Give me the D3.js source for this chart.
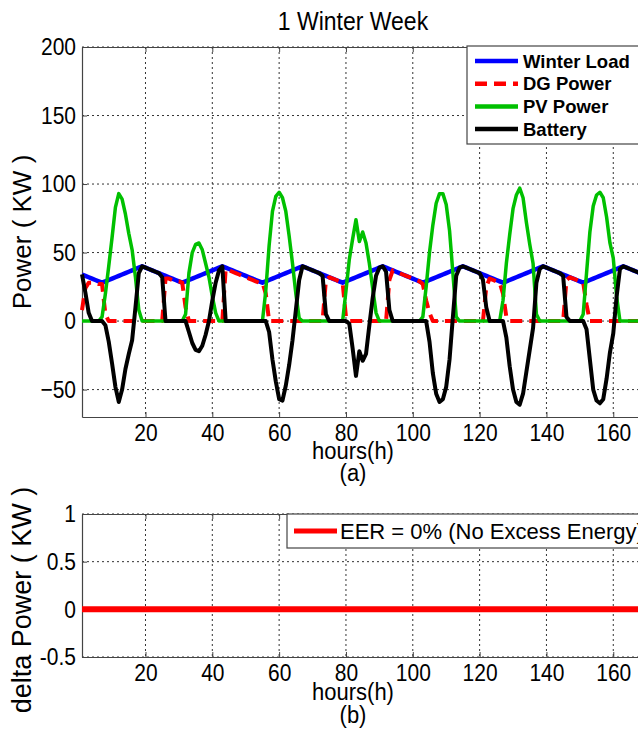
<!DOCTYPE html>
<html>
<head>
<meta charset="utf-8">
<script src="https://cdn.jsdelivr.net/npm/d3@7"></script>
<style>
  body { margin: 0; background: #fff; }
  text { font-family: "Liberation Sans", Arial, sans-serif; fill: #000; }
</style>
</head>
<body>
<div id="chart"></div>
<script>
// hourly values, hours 1..168
var hours = d3.range(1, 169);

var winterLoad = [
  34,33,32,31,30,29,28,29,30,31,32,33,34,35,36,37,38,39,40,39,38,37,36,35,
  34,33,32,31,30,29,28,29,30,31,32,33,34,35,36,37,38,39,40,39,38,37,36,35,
  34,33,32,31,30,29,28,29,30,31,32,33,34,35,36,37,38,39,40,39,38,37,36,35,
  34,33,32,31,30,29,28,29,30,31,32,33,34,35,36,37,38,39,40,39,38,37,36,35,
  34,33,32,31,30,29,28,29,30,31,32,33,34,35,36,37,38,39,40,39,38,37,36,35,
  34,33,32,31,30,29,28,29,30,31,32,33,34,35,36,37,38,39,40,39,38,37,36,35,
  34,33,32,31,30,29,28,29,30,31,32,33,34,35,36,37,38,39,40,39,38,37,36,35
];

var dgPower = [
  8,24,28,28,28,27,27,5,0,0,0,0,0,0,0,0,0,0,0,0,0,0,0,0,
  0,31,31,30,29,29,28,10,0,0,0,0,0,0,0,0,0,0,0,38,37,36,35,34,
  33,32,31,30,29,28,28,20,0,0,0,0,0,0,0,0,0,0,0,0,0,0,0,0,
  0,30,32,31,30,29,28,3,0,0,0,0,0,0,0,0,0,0,0,0,30,37,36,35,
  34,33,32,31,30,29,27,15,6,0,0,0,0,0,0,0,0,0,0,0,0,0,0,0,
  0,25,31,30,29,28,20,3,0,0,0,0,0,0,0,0,0,0,0,0,0,0,0,0,
  0,30,32,31,30,29,28,12,0,0,0,0,0,0,0,0,0,0,0,0,0,0,0,0
];

var pvPower = [
  0,0,0,0,0,0,3,20,40,61,83,93,89,78,64,52,32,8,0,0,0,0,0,0,
  0,0,0,0,0,0,0,5,35,50,56,57,52,42,32,18,6,0,0,0,0,0,0,0,
  0,0,0,0,0,0,0,22,55,80,91,94,90,80,62,42,20,2,0,0,0,0,0,0,
  0,0,0,0,0,0,0,22,45,60,74,58,65,57,42,24,6,0,0,0,0,0,0,0,
  0,0,0,0,0,0,3,25,50,70,86,93,93,85,66,35,3,0,0,0,0,0,0,0,
  0,0,0,0,0,0,15,42,63,82,92,97,90,72,56,42,5,0,0,0,0,0,0,0,
  0,0,0,0,0,0,5,35,65,84,92,94,90,76,57,46,18,0,0,0,0,0,0,0
];

var battery = [
  34,21,6,0,0,0,0,-3,-15,-31,-48,-59,-50,-35,-24,-14,10,35,40,39,38,37,36,35,
  32,0,0,0,0,0,0,0,-8,-16,-21,-22,-18,-10,0,15,28,37,40,0,0,0,0,0,
  0,0,0,0,0,0,0,0,-8,-28,-44,-57,-58,-47,-32,-14,8,30,40,39,38,37,36,35,
  33,5,0,0,0,0,0,0,-2,-20,-40,-22,-29,-24,-3,17,33,39,40,36,8,0,0,0,
  0,0,0,0,0,0,0,0,-15,-38,-53,-59,-57,-48,-28,3,33,39,40,39,38,37,36,35,
  30,10,0,0,0,0,0,-12,-33,-50,-59,-61,-53,-37,-21,-5,28,38,40,39,38,37,36,35,
  33,3,0,0,0,0,0,-6,-28,-50,-58,-60,-57,-42,-23,-9,18,38,40,39,38,37,36,35
];

var deltaPower = hours.map(function() { return 0; });

var xTicks = [20, 40, 60, 80, 100, 120, 140, 160];
var yTicksA = [-50, 0, 50, 100, 150, 200];
var yTicksB = [-0.5, 0, 0.5, 1];

var series = [
  {name: "Winter Load", values: winterLoad, color: "#0000ff", width: 4.5, dash: null},
  {name: "DG Power", values: dgPower, color: "#ff0000", width: 4, dash: "12,7"},
  {name: "PV Power", values: pvPower, color: "#00c000", width: 3.5, dash: null},
  {name: "Battery", values: battery, color: "#000000", width: 4, dash: null}
];

var W = 638, H = 739;
var svg = d3.select("#chart").append("svg")
  .attr("width", W).attr("height", H);
svg.append("rect").attr("width", W).attr("height", H).attr("fill", "#fff");

var x = d3.scaleLinear().domain([1, 168]).range([82, 640]);

// text slightly taller than wide, as in the picture
function label(px, py, size, str, rot) {
  return svg.append("text")
    .attr("transform", "translate(" + px + "," + py + ")" + (rot ? " rotate(-90)" : " scale(1,1.1)"))
    .attr("text-anchor", "middle").attr("font-size", size).text(str);
}

function panel(top, bottom, yDomain, yTicks, yFmt) {
  var y = d3.scaleLinear().domain(yDomain).range([bottom, top]);
  var g = svg.append("g");

  // grid
  g.selectAll(".gx").data(xTicks).enter().append("line")
    .attr("x1", function(d) { return x(d); }).attr("x2", function(d) { return x(d); })
    .attr("y1", top).attr("y2", bottom)
    .attr("stroke", "#333").attr("stroke-width", 1).attr("stroke-dasharray", "2,3");
  g.selectAll(".gy").data(yTicks).enter().append("line")
    .attr("x1", x.range()[0]).attr("x2", x.range()[1])
    .attr("y1", function(d) { return y(d); }).attr("y2", function(d) { return y(d); })
    .attr("stroke", "#333").attr("stroke-width", 1).attr("stroke-dasharray", "2,3");

  // axes, ticks inside
  g.append("g").attr("transform", "translate(0," + bottom + ")")
    .call(d3.axisBottom(x).tickValues(xTicks).tickSizeInner(-5).tickSizeOuter(0).tickPadding(6))
    .call(styleAxis);
  g.append("g").attr("transform", "translate(0," + top + ")")
    .call(d3.axisTop(x).tickValues(xTicks).tickFormat("").tickSizeInner(-5).tickSizeOuter(0))
    .call(styleAxis);
  g.append("g").attr("transform", "translate(" + x.range()[0] + ",0)")
    .call(d3.axisLeft(y).tickValues(yTicks).tickFormat(yFmt).tickSizeInner(-5).tickSizeOuter(0).tickPadding(6))
    .call(styleAxis);
  return {y: y, g: g};
}

function styleAxis(sel) {
  sel.select(".domain").attr("stroke", "#444").attr("stroke-width", 1.2);
  sel.selectAll(".tick line").attr("stroke", "#444");
  sel.selectAll(".tick text").attr("font-size", 21).attr("fill", "#000")
    .attr("font-family", "Liberation Sans, Arial, sans-serif")
    .attr("transform", "scale(1,1.15)");
}

// ---- panel (a)
var pa = panel(47, 417, [-70, 200], yTicksA, d3.format("d"));

series.forEach(function(s) {
  var line = d3.line()
    .x(function(d, i) { return x(hours[i]); })
    .y(function(d) { return pa.y(d); });
  svg.append("path").datum(s.values)
    .attr("d", line)
    .attr("fill", "none")
    .attr("stroke", s.color)
    .attr("stroke-width", s.width)
    .attr("stroke-linejoin", "round")
    .attr("stroke-dasharray", s.dash);
});

// legend (a)
var lg = svg.append("g");
lg.append("rect").attr("x", 467).attr("y", 46).attr("width", 180).attr("height", 98)
  .attr("fill", "#fff").attr("stroke", "#444").attr("stroke-width", 1.2);
series.forEach(function(s, i) {
  var yy = 61 + i * 22.7;
  lg.append("line").attr("x1", 475).attr("x2", 518).attr("y1", yy).attr("y2", yy)
    .attr("stroke", s.color).attr("stroke-width", 4.5).attr("stroke-dasharray", s.dash);
  lg.append("text").attr("x", 523).attr("y", yy + 6.5)
    .attr("font-size", 18.5).attr("font-weight", "bold").text(s.name);
});

label(353, 30, 23, "1 Winter Week");
label(31, 232, 26, "Power ( KW )", true);
label(353, 459, 22, "hours(h)");
label(353, 481, 22, "(a)");

// ---- panel (b)
var pb = panel(514, 657, [-0.5, 1], yTicksB, function(d) { return d === 1 ? "1" : d; });

svg.append("path").datum(deltaPower)
  .attr("d", d3.line().x(function(d, i) { return x(hours[i]); }).y(function(d) { return pb.y(d); }))
  .attr("fill", "none").attr("stroke", "#ff0000").attr("stroke-width", 6);

var lb = svg.append("g");
lb.append("rect").attr("x", 287).attr("y", 514).attr("width", 360).attr("height", 34)
  .attr("fill", "#fff").attr("stroke", "#444").attr("stroke-width", 1.2);
lb.append("line").attr("x1", 294).attr("x2", 337).attr("y1", 531).attr("y2", 531)
  .attr("stroke", "#ff0000").attr("stroke-width", 5);
lb.append("text").attr("x", 340).attr("y", 538.5).attr("font-size", 22)
  .text("EER = 0% (No Excess Energy)");

label(31, 600, 27, "delta Power ( KW )", true);
label(353, 700, 22, "hours(h)");
label(353, 723, 22, "(b)");
</script>
</body>
</html>
